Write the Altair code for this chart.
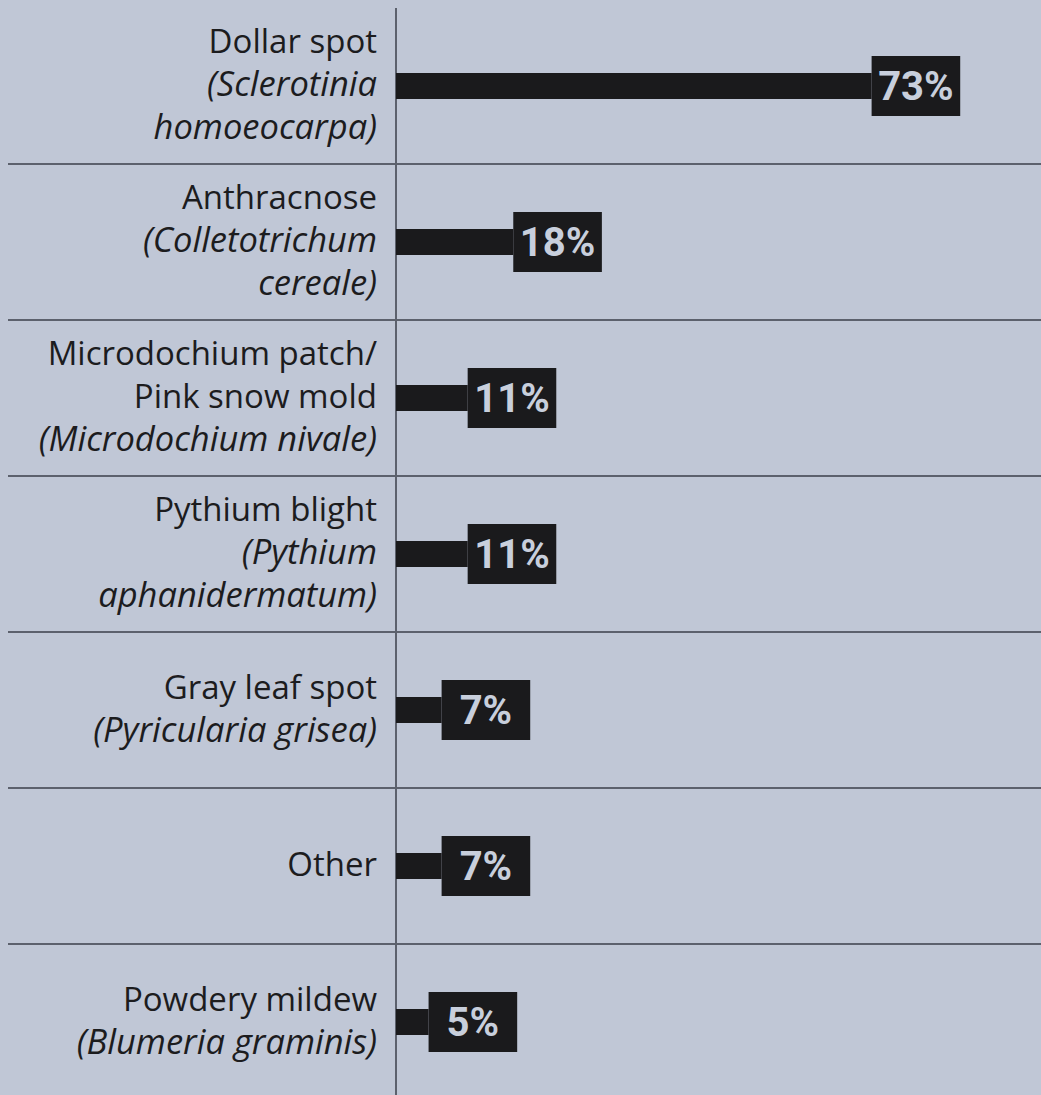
import altair as alt
import pandas as pd

categories = ["Dollar spot", "Anthracnose", "Microdochium patch", "Pythium blight",
              "Gray leaf spot", "Other", "Powdery mildew"]
values = [73, 18, 11, 11, 7, 7, 5]
value_labels = ["73%", "18%", "11%", "11%", "7%", "7%", "5%"]
label_lines = [
    ["Dollar spot", "(Sclerotinia", "homoeocarpa)"],
    ["Anthracnose", "(Colletotrichum", "cereale)"],
    ["Microdochium patch/", "Pink snow mold", "(Microdochium nivale)"],
    ["Pythium blight", "(Pythium", "aphanidermatum)"],
    ["Gray leaf spot", "(Pyricularia grisea)"],
    ["Other"],
    ["Powdery mildew", "(Blumeria graminis)"],
]
label_italic = [
    [False, True, True],
    [False, True, True],
    [False, False, True],
    [False, True, True],
    [False, True],
    [False],
    [False, True],
]

W, H = 645, 1092
BG = "#c0c7d6"
BAR = "#1a1a1c"
LINE = "#5c616d"
TXT = "#1c1c1e"
BOXTXT = "#c8cfdc"
LINE_H = 43

df = pd.DataFrame({"cat": categories, "value": values, "label": value_labels,
                   "row": list(range(len(categories)))})

rows = []
for cat, lines, its in zip(categories, label_lines, label_italic):
    n = len(lines)
    for i, (ln, it) in enumerate(zip(lines, its)):
        rows.append({"cat": cat, "line": ln, "dy": (i - (n - 1) / 2) * LINE_H, "italic": it})
ldf = pd.DataFrame(rows)

yscale = alt.Scale(domain=categories, paddingInner=0, paddingOuter=0)
y = alt.Y("cat:N", scale=yscale, axis=None)
xscale = alt.Scale(domain=[0, 99], nice=False, zero=True)

base = alt.Chart(df)
bars = base.mark_bar(color=BAR, size=26).encode(
    x=alt.X("value:Q", scale=xscale, axis=None), y=y)
boxes = base.transform_calculate(end="datum.value + 13.6").mark_bar(color=BAR, size=60).encode(
    x=alt.X("value:Q", scale=xscale, axis=None), x2="end:Q", y=y)
box_text = base.transform_calculate(mid="datum.value + 6.8").mark_text(
    font="Roboto", fontWeight="bold",
    fontSize=40, color=BOXTXT, align="center", baseline="middle", dy=2
).encode(x=alt.X("mid:Q", scale=xscale, axis=None), y=y, text="label:N")

sep = base.transform_filter("datum.row < 6").mark_rule(
    color=LINE, strokeWidth=2, yOffset=H / 14
).encode(y=y, x=alt.value(-388), x2=alt.value(W))

one = alt.Chart(pd.DataFrame({"a": [0]}))
vline = one.mark_rule(color=LINE, strokeWidth=2).encode(
    x=alt.value(0), y=alt.value(0), y2=alt.value(H))

text_layers = []
for (dy, it), g in ldf.groupby(["dy", "italic"]):
    text_layers.append(
        alt.Chart(g).mark_text(
            align="right", baseline="middle", dy=float(dy), font="Open Sans",
            fontSize=34.5 if it else 33, fontStyle="italic" if it else "normal", color=TXT
        ).encode(x=alt.value(-19), y=y, text="line:N")
    )

chart = alt.layer(sep, vline, bars, boxes, box_text, *text_layers).properties(
    width=W, height=H,
    autosize=alt.AutoSizeParams(type="none"),
    padding={"left": 396, "top": 8, "right": 0, "bottom": 0},
    background=BG,
).configure_view(stroke=None)

chart.save("out.html", embed_options={"renderer": "svg", "actions": False})
